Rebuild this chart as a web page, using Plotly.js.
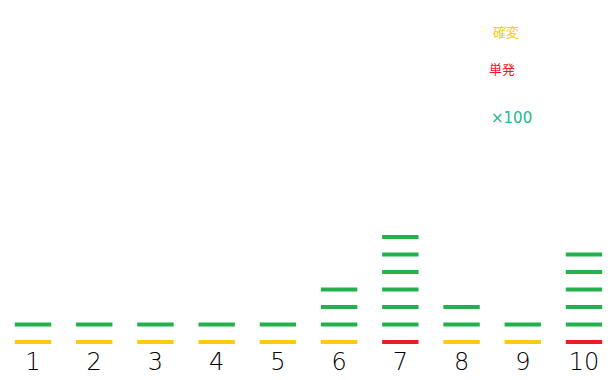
<!DOCTYPE html>
<html>
<head>
<meta charset="utf-8">
<script src="https://cdn.plot.ly/plotly-3.0.1.min.js"></script>
<style>html,body{margin:0;padding:0;background:#fff;}#chart{width:615px;height:380px;}</style>
</head>
<body>
<div id="chart"></div>
<script>
// Game numbers and tick labels
const games = [1, 2, 3, 4, 5, 6, 7, 8, 9, 10];
const gameLabels = ['1', '2', '3', '4', '5', '6', '7', '8', '9', '10'];

// 確変 (first hit, yellow)
const kakuhenX = [1, 2, 3, 4, 5, 6, 8, 9];
const kakuhenY = [0, 0, 0, 0, 0, 0, 0, 0];

// 単発 (first hit, red)
const tanpatsuX = [7, 10];
const tanpatsuY = [0, 0];

// ×100 (green)
const x100X = [1, 2, 3, 4, 5, 6, 6, 6, 7, 7, 7, 7, 7, 7, 8, 8, 9, 10, 10, 10, 10, 10];
const x100Y = [1, 1, 1, 1, 1, 1, 2, 3, 1, 2, 3, 4, 5, 6, 1, 2, 1, 1, 2, 3, 4, 5];

// Legend texts
const seriesNames = ['確変', '単発', '×100'];

const colYellow = '#FFC90E', colRed = '#ED1C24', colGreen = '#22B14C';

function seg(x, y, color, name) {
  return {
    type: 'scatter', mode: 'markers', x: x, y: y, name: name, showlegend: false,
    cliponaxis: false, hoverinfo: 'skip',
    marker: {symbol: 'line-ew', size: 26, color: color, line: {color: color, width: 4}}
  };
}

const data = [
  seg(kakuhenX, kakuhenY, colYellow, seriesNames[0]),
  seg(tanpatsuX, tanpatsuY, colRed, seriesNames[1]),
  seg(x100X, x100Y, colGreen, seriesNames[2])
];

const layout = {
  width: 615, height: 380,
  margin: {l: 0, r: 0, t: 0, b: 35},
  paper_bgcolor: '#fff', plot_bgcolor: '#fff',
  showlegend: false,
  xaxis: {
    range: [1 - 33 / 61.2, 10 + 31 / 61.2],
    tickvals: games, ticktext: gameLabels,
    showgrid: false, zeroline: false, showline: false, ticks: '',
    tickfont: {family: 'DejaVu Sans', size: 24, color: '#000', weight: 200}
  },
  yaxis: {
    range: [-3 / 17.5, -3 / 17.5 + 345 / 17.5],
    visible: false, showgrid: false, zeroline: false
  },
  annotations: [
    {text: seriesNames[0], xref: 'paper', yref: 'paper', x: 491 / 615, y: 1 - 31 / 345, xanchor: 'left', yanchor: 'middle', showarrow: false, font: {family: 'Noto Sans CJK JP', size: 13, color: '#FFC90E'}},
    {text: seriesNames[1], xref: 'paper', yref: 'paper', x: 487 / 615, y: 1 - 68 / 345, xanchor: 'left', yanchor: 'middle', showarrow: false, font: {family: 'Noto Sans CJK JP', size: 13, color: colRed}},
    {text: seriesNames[2], xref: 'paper', yref: 'paper', x: 489 / 615, y: 1 - 118 / 345, xanchor: 'left', yanchor: 'middle', showarrow: false, font: {family: 'DejaVu Sans', size: 15, color: '#20B890'}}
  ]
};

Plotly.newPlot('chart', data, layout, {staticPlot: true, displayModeBar: false});
</script>
</body>
</html>
